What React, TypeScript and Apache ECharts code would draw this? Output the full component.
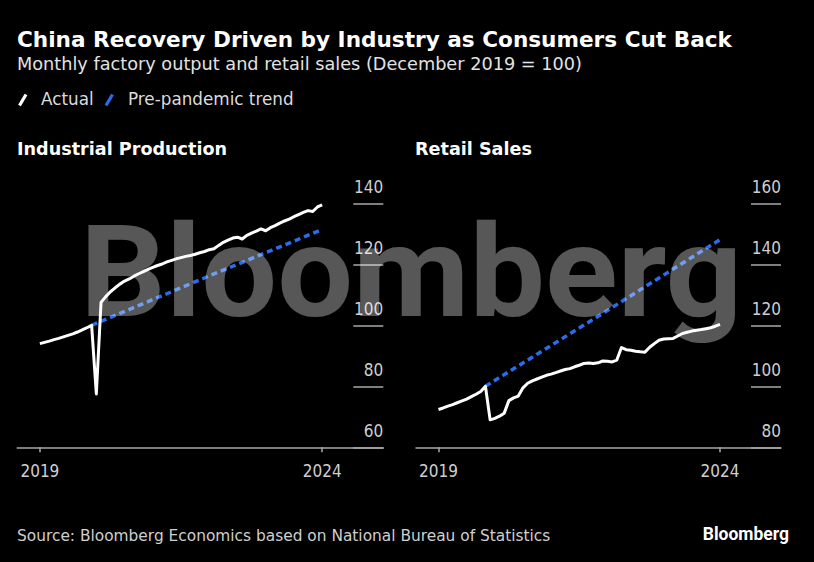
import React, { useEffect, useRef } from "react";
import * as echarts from "echarts";

// Month index: 0 = Jan 2019 tick, 60 = Jan 2024 tick
const months = [
  0, 1, 2, 3, 4, 5, 6, 7, 8, 9, 10, 11, 12, 13, 14, 15, 16, 17, 18, 19, 20,
  21, 22, 23, 24, 25, 26, 27, 28, 29, 30, 31, 32, 33, 34, 35, 36, 37, 38, 39, 40,
  41, 42, 43, 44, 45, 46, 47, 48, 49, 50, 51, 52, 53, 54, 55, 56, 57, 58, 59, 60,
];

const industrialActual = [
  94.0, 94.4, 94.8, 95.3, 95.7, 96.2, 96.7, 97.2, 97.8, 98.5, 99.2, 100.0,
  77.5, 107.5, 109.4, 111.0, 112.3, 113.5, 114.5, 115.2, 116.1, 116.9, 117.6, 118.3,
  119.0, 119.6, 120.1, 120.8, 121.3, 121.8, 122.2, 122.6, 122.9, 123.3, 123.8, 124.2,
  124.8, 125.1, 126.2, 127.2, 127.9, 128.6, 128.9, 128.3, 129.5, 130.2, 130.9, 131.6,
  131.0, 132.0, 132.7, 133.5, 134.2, 134.8, 135.6, 136.3, 137.0, 137.6, 137.3, 138.8,
  139.5,
];

const retailActual = [
  92.4, 92.9, 93.5, 94.0, 94.6, 95.2, 95.8, 96.6, 97.4, 98.3, 100.0, 89.0,
  89.5, 90.2, 91.2, 95.3, 96.2, 96.8, 99.5, 101.0, 101.8, 102.4, 103.0, 103.6,
  104.0, 104.5, 105.0, 105.5, 105.8, 106.4, 106.9, 107.5, 107.6, 107.5, 107.7, 108.3,
  108.2, 108.0, 108.6, 112.7, 112.0, 111.8, 111.5, 111.3, 111.2, 112.8, 114.0, 115.1,
  115.5, 115.6, 115.7, 116.5, 117.3, 117.7, 118.1, 118.4, 118.6, 118.9, 119.2, 119.7,
  120.3,
];

// Pre-pandemic trend (month index, value)
const industrialTrendMonths = [11, 36, 60];
const industrialTrendValues = [100, 116.2, 131.4];
const retailTrendMonths = [10, 35, 60];
const retailTrendValues = [100, 123.9, 148.1];

const xTickValues = [0, 60];
const xTickLabels = ["2019", "2024"];

const TITLE = "China Recovery Driven by Industry as Consumers Cut Back";
const SUBTITLE = "Monthly factory output and retail sales (December 2019 = 100)";
const LEGEND = ["Actual", "Pre-pandemic trend"];
const PANEL_TITLES = ["Industrial Production", "Retail Sales"];
const SOURCE = "Source: Bloomberg Economics based on National Bureau of Statistics";

const FONT = "'DejaVu Sans', sans-serif";
const AXIS_FONT = "'DejaVu Sans Condensed', 'DejaVu Sans', sans-serif";
const LOGO_FONT = "Roboto, 'Liberation Sans', sans-serif";
const BLUE = "#2a6cec";
const AXIS = "#a8a8a8";
const LABEL = "#cfcfcf";

function pairs(xs: number[], ys: number[]) {
  return xs.map((x, i) => [x, ys[i]]);
}

export default function App() {
  const ref = useRef<HTMLDivElement>(null);

  useEffect(() => {
    if (!ref.current) return;
    const chart = echarts.init(ref.current, undefined, { renderer: "svg" });

    const xAxisBase = (gridIndex: number) => ({
      type: "value" as const,
      gridIndex,
      min: -4.8,
      max: 73,
      splitLine: { show: false },
      axisLine: { show: true, onZero: false, lineStyle: { color: AXIS, width: 1.5 } },
      axisTick: {
        show: true,
        length: 5,
        customValues: xTickValues,
        lineStyle: { color: AXIS, width: 1.5 },
      },
      axisLabel: {
        show: true,
        customValues: xTickValues,
        formatter: (v: number) => xTickLabels[xTickValues.indexOf(v)] ?? "",
        color: LABEL,
        fontFamily: AXIS_FONT,
        fontSize: 17,
        margin: 15,
      },
    });

    const yAxisBase = (gridIndex: number, min: number, max: number) => ({
      type: "value" as const,
      gridIndex,
      position: "right" as const,
      min,
      max,
      interval: 20,
      splitLine: { show: false },
      axisLine: { show: false, onZero: false },
      axisTick: {
        show: true,
        inside: true,
        length: 30,
        lineStyle: { color: AXIS, width: 1.5 },
      },
      axisLabel: {
        show: true,
        inside: true,
        margin: 0,
        color: LABEL,
        fontFamily: AXIS_FONT,
        fontSize: 17,
        verticalAlign: "bottom" as const,
        padding: [0, 0, 8, 0],
      },
    });

    const actualLine = {
      color: "#ffffff",
      width: 3,
      join: "round" as const,
    };

    chart.setOption({
      animation: false,
      backgroundColor: "#000000",
      grid: [
        { left: 17.3, right: 814 - 383.3, top: 203.3, bottom: 562 - 447.3 },
        { left: 416, right: 814 - 781, top: 203.3, bottom: 562 - 447.3 },
      ],
      xAxis: [xAxisBase(0), xAxisBase(1)],
      yAxis: [yAxisBase(0, 60, 140), yAxisBase(1, 80, 160)],
      series: [
        {
          type: "line",
          xAxisIndex: 0,
          yAxisIndex: 0,
          data: pairs(industrialTrendMonths, industrialTrendValues),
          showSymbol: false,
          lineStyle: { color: BLUE, width: 3.5, type: [6, 4] },
          z: 2,
        },
        {
          type: "line",
          xAxisIndex: 0,
          yAxisIndex: 0,
          data: pairs(months, industrialActual),
          showSymbol: false,
          lineStyle: actualLine,
          z: 3,
        },
        {
          type: "line",
          xAxisIndex: 1,
          yAxisIndex: 1,
          data: pairs(retailTrendMonths, retailTrendValues),
          showSymbol: false,
          lineStyle: { color: BLUE, width: 3.5, type: [6, 4] },
          z: 2,
        },
        {
          type: "line",
          xAxisIndex: 1,
          yAxisIndex: 1,
          data: pairs(months, retailActual),
          showSymbol: false,
          lineStyle: actualLine,
          z: 3,
        },
      ],
      graphic: [
        {
          type: "text",
          x: 17,
          y: 39.2,
          style: {
            text: TITLE,
            fill: "#ffffff",
            fontFamily: FONT,
            fontWeight: "bold",
            fontSize: 21.6,
            verticalAlign: "middle",
          },
        },
        {
          type: "text",
          x: 17,
          y: 63.5,
          style: {
            text: SUBTITLE,
            fill: "#e2e2e2",
            fontFamily: FONT,
            fontSize: 17.7,
            verticalAlign: "middle",
          },
        },
        {
          type: "line",
          shape: { x1: 19.5, y1: 105.5, x2: 26, y2: 94.5 },
          style: { stroke: "#ffffff", lineWidth: 3.2 },
        },
        {
          type: "text",
          x: 41,
          y: 99,
          style: {
            text: LEGEND[0],
            fill: "#dcdcdc",
            fontFamily: FONT,
            fontSize: 16.8,
            verticalAlign: "middle",
          },
        },
        {
          type: "line",
          shape: { x1: 106, y1: 105.5, x2: 112.5, y2: 94.5 },
          style: { stroke: BLUE, lineWidth: 3.2 },
        },
        {
          type: "text",
          x: 128,
          y: 99,
          style: {
            text: LEGEND[1],
            fill: "#dcdcdc",
            fontFamily: FONT,
            fontSize: 16.8,
            verticalAlign: "middle",
          },
        },
        {
          type: "text",
          x: 17,
          y: 148.7,
          style: {
            text: PANEL_TITLES[0],
            fill: "#ffffff",
            fontFamily: FONT,
            fontWeight: "bold",
            fontSize: 17.6,
            verticalAlign: "middle",
          },
        },
        {
          type: "text",
          x: 415,
          y: 148.7,
          style: {
            text: PANEL_TITLES[1],
            fill: "#ffffff",
            fontFamily: FONT,
            fontWeight: "bold",
            fontSize: 17.6,
            verticalAlign: "middle",
          },
        },
        {
          type: "text",
          x: 17,
          y: 536,
          style: {
            text: SOURCE,
            fill: "#cfcfcf",
            fontFamily: FONT,
            fontSize: 15.4,
            verticalAlign: "middle",
          },
        },
        {
          type: "text",
          x: 789,
          y: 533.5,
          style: {
            text: "Bloomberg",
            fill: "#ffffff",
            fontFamily: LOGO_FONT,
            fontWeight: "bold",
            fontSize: 17.5,
            align: "right",
            verticalAlign: "middle",
          },
        },
        {
          type: "text",
          x: 80,
          y: 272,
          z: 100,
          scaleX: 1.05,
          silent: true,
          style: {
            text: "Bloomberg",
            fill: "rgba(255,255,255,0.34)",
            fontFamily: LOGO_FONT,
            fontWeight: "bold",
            fontSize: 128,
            verticalAlign: "middle",
          },
        },
      ],
    });

    return () => {
      chart.dispose();
    };
  }, []);

  return (
    <div
      ref={ref}
      style={{
        position: "fixed",
        left: 0,
        top: 0,
        width: 814,
        height: 562,
        background: "#000",
      }}
    />
  );
}
